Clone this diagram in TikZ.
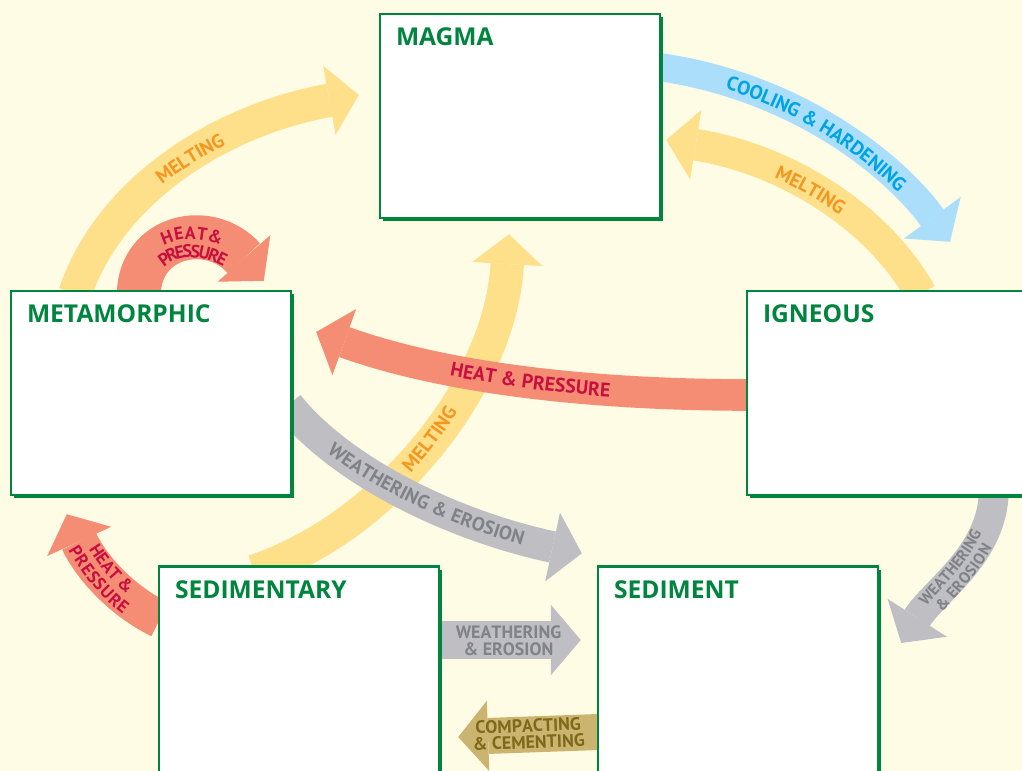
\documentclass[tikz,border=0pt]{standalone}
\usepackage{fontspec}
\setmainfont{Open Sans}
\newfontfamily\bandfont{PT Sans}
\usetikzlibrary{arrows.meta,decorations.text,shadows,calc,backgrounds}

\definecolor{paper}{RGB}{255,252,230}
\definecolor{boxgreen}{RGB}{0,133,62}
\definecolor{meltband}{RGB}{254,224,139}
\definecolor{melttext}{RGB}{244,151,32}
\definecolor{coolband}{RGB}{170,222,250}
\definecolor{cooltext}{RGB}{0,163,227}
\definecolor{heatband}{RGB}{244,141,115}
\definecolor{heattext}{RGB}{200,16,64}
\definecolor{wearband}{RGB}{190,190,195}
\definecolor{weartext}{RGB}{128,130,136}
\definecolor{compband}{RGB}{203,180,112}
\definecolor{comptext}{RGB}{125,105,25}

\begin{document}
\begin{tikzpicture}[x=0.02cm, y=-0.02cm,
  rockbox/.style={draw=boxgreen, line width=1.4pt, fill=white, minimum width=5.6cm, minimum height=4.08cm,
    general shadow={fill=boxgreen, shadow xshift=1.7pt, shadow yshift=-1.7pt}},
  rocklabel/.style={anchor=base west, text=boxgreen, font=\fontsize{14}{17}\selectfont\bfseries},
  band/.style={line width=#1, -{Triangle[width=40pt, length=17pt, line width=0pt]}},
  flowtext/.style n args={4}{decorate, decoration={text along path, text align=center, raise=#2,
    text={|\bandfont\bfseries\fontsize{#3}{#3}\selectfont\color{#4}|#1}}}]

\useasboundingbox (0,0) rectangle (1022,771);

\node[rockbox] (magma) at (520,116) {};
\node[rockbox] (metamorphic) at (151,393) {};
\node[rockbox] (igneous) at (887,393) {};
\node[rockbox, minimum height=4.5cm] (sedimentary) at (299,679) {};
\node[rockbox, minimum height=4.5cm] (sediment) at (738,679) {};

\node[rocklabel] (magma-t) at ($(magma.north west)+(11,33)$) {MAGMA};
\node[rocklabel] (metamorphic-t) at ($(metamorphic.north west)+(11,33)$) {METAMORPHIC};
\node[rocklabel] (igneous-t) at ($(igneous.north west)+(11,33)$) {IGNEOUS};
\node[rocklabel] (sedimentary-t) at ($(sedimentary.north west)+(11,33)$) {SEDIMENTARY};
\node[rocklabel] (sediment-t) at ($(sediment.north west)+(11,33)$) {SEDIMENT};

\coordinate (cool-s) at ($(magma.north east)+(-4,54)$);
\coordinate (cool-e) at ($(igneous.north)+(63,-48)$);
\coordinate (meltI-s) at ($(igneous.north west)+(175,4)$);
\coordinate (meltI-e) at ($(magma.east)+(5,24)$);
\coordinate (meltM-s) at ($(metamorphic.north west)+(65,4)$);
\coordinate (meltM-e) at ($(magma.west)+(-20,-21)$);
\coordinate (loop-s) at ($(metamorphic.north west)+(129,4)$);
\coordinate (loop-e) at ($(metamorphic.north west)+(254,-9)$);
\coordinate (heatI-s) at ($(igneous.west)+(4,2)$);
\coordinate (heatI-e) at ($(metamorphic.east)+(24,-61)$);
\coordinate (wear-s) at ($(metamorphic.east)+(-4,12)$);
\coordinate (wear-e) at ($(sediment.north west)+(-15,-12)$);
\coordinate (meltS-s) at ($(sedimentary.north west)+(96,6)$);
\coordinate (meltS-e) at ($(magma.south)+(-11,15)$);
\coordinate (heatS-s) at ($(sedimentary.north west)+(2,54)$);
\coordinate (heatS-e) at ($(metamorphic.south west)+(57,18)$);
\coordinate (wearI-s) at ($(igneous.south west)+(248,-4)$);
\coordinate (wearI-e) at ($(sediment.east)+(22,-36)$);
\coordinate (wearH-s) at ($(sedimentary.east)+(-4,-39)$);
\coordinate (wearH-e) at ($(sediment.west)+(-16,-39)$);
\coordinate (comp-s) at ($(sediment.west)+(2,53)$);
\coordinate (comp-e) at ($(sedimentary.east)+(18,58)$);

\begin{scope}[on background layer]
\fill[paper] (0,0) rectangle (1022,771);

\draw[band=19pt, color=meltband] (meltM-s) .. controls (110,190) and (220,120) .. (meltM-e);
\path[flowtext={MELTING}{-3.9pt}{11}{melttext}] (meltM-s) .. controls (110,190) and (220,120) .. (meltM-e);

\draw[band=18pt, color=meltband] (meltI-s) .. controls (880,220) and (790,160) .. (meltI-e);
\path[flowtext={MELTING}{-3.9pt}{11}{melttext}] (meltI-e) .. controls (790,160) and (880,220) .. (meltI-s);

\draw[band=19pt, color=meltband] (meltS-s) .. controls (380,530) and (500,390) .. (meltS-e);
\path[flowtext={MELTING}{-3.9pt}{11}{melttext}] (meltS-s) .. controls (380,530) and (500,390) .. (meltS-e);

\draw[band=16pt, color=coolband] (cool-s) .. controls (790,85) and (890,160) .. (cool-e);
\path[flowtext={COOLING {\&} HARDENING}{-3.9pt}{11.2}{cooltext}] (cool-s) .. controls (790,85) and (890,160) .. (cool-e);

\draw[band=25pt, color=heatband] (loop-s) .. controls (140,235) and (210,220) .. (loop-e);
\path[flowtext={HEAT{\&}}{1.5pt}{10.2}{heattext}] (loop-s) .. controls (140,235) and (210,220) .. (loop-e);
\path[flowtext={PRESSURE}{-8.9pt}{10.2}{heattext}] (loop-s) .. controls (140,235) and (210,220) .. (loop-e);

\draw[band=18pt, color=heatband] (heatI-s) .. controls (600,395) and (450,380) .. (heatI-e);
\path[flowtext={HEAT {\&} PRESSURE}{-3.9pt}{11.2}{heattext}] (heatI-e) .. controls (450,380) and (600,395) .. (heatI-s);

\draw[band=18pt, color=wearband] (wear-s) .. controls (340,470) and (450,525) .. (wear-e);
\path[flowtext={WEATHERING {\&} EROSION}{-3.9pt}{11}{weartext}] (wear-s) .. controls (340,470) and (450,525) .. (wear-e);

\draw[band=21.5pt, color=heatband] (heatS-s) .. controls (120,600) and (90,565) .. (heatS-e);
\path[flowtext={HEAT {\&}}{1.5pt}{10}{heattext}] (heatS-e) .. controls (90,565) and (120,600) .. (heatS-s);
\path[flowtext={PRESSURE}{-8.8pt}{10}{heattext}] (heatS-e) .. controls (90,565) and (120,600) .. (heatS-s);

\draw[band=17pt, color=wearband] (wearI-s) .. controls (992,555) and (935,590) .. (wearI-e);
\path[flowtext={WEATHERING}{1.2pt}{9}{weartext}] (wearI-e) .. controls (935,590) and (992,555) .. (wearI-s);
\path[flowtext={{\&} EROSION}{-7.8pt}{9}{weartext}] (wearI-e) .. controls (935,590) and (992,555) .. (wearI-s);

\draw[band=21.5pt, color=wearband] (wearH-s) -- (wearH-e);
\path[flowtext={WEATHERING}{0.6pt}{10.2}{weartext}] (wearH-s) -- (wearH-e);
\path[flowtext={{\&} EROSION}{-8.6pt}{10.2}{weartext}] (wearH-s) -- (wearH-e);

\draw[band=20.5pt, color=compband] (comp-s) -- (comp-e);
\path[flowtext={COMPACTING}{1.4pt}{10.2}{comptext}] (comp-e) -- (comp-s);
\path[flowtext={{\&} CEMENTING}{-8pt}{10.2}{comptext}] (comp-e) -- (comp-s);
\end{scope}

\end{tikzpicture}
\end{document}
